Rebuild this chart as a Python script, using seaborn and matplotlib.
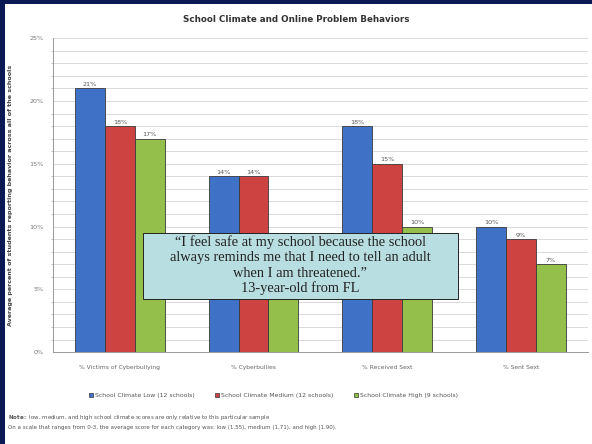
import pandas as pd
import numpy as np
import matplotlib.pyplot as plt
import seaborn as sns
from matplotlib.patches import Rectangle, Patch
from matplotlib.ticker import MultipleLocator

# data (cyberbullies / high is hidden behind the quote box, estimated)
categories = ["% Victims of Cyberbullying", "% Cyberbullies", "% Received Sext", "% Sent Sext"]
groups = ["School Climate Low (12 schools)", "School Climate Medium (12 schools)",
          "School Climate High (9 schools)"]
low = [21, 14, 18, 10]
medium = [18, 14, 15, 9]
high = [17, 8, 10, 7]

colors = ["#3F72C6", "#CC4341", "#95BF4B"]

quote_lines = ["\u201cI feel safe at my school because the school",
               "always reminds me that I need to tell an adult",
               "when I am threatened.\u201d",
               "13-year-old from FL"]

data = pd.DataFrame({
    "category": categories * 3,
    "group": [groups[0]] * 4 + [groups[1]] * 4 + [groups[2]] * 4,
    "value": low + medium + high,
})

sns.set_style("white")
fig = plt.figure(figsize=(5.92, 4.44), dpi=100)
ax = fig.add_axes([0.0895, 0.207, 0.9035, 0.707])

sns.barplot(data=data, x="category", y="value", hue="group", palette=colors,
            saturation=1, width=0.67, edgecolor="#3a3a3a", linewidth=0.6,
            legend=False, ax=ax, zorder=3)

for k, cont in enumerate(ax.containers):
    labels = [f"{v:.0f}%" for v in cont.datavalues]
    if k == 2:
        labels[1] = ""  # this label sits under the quote box in the original
    ax.bar_label(cont, labels=labels, fontsize=4.6, color="#555555", padding=1)

ax.set_ylim(0, 25)
ax.yaxis.set_major_locator(MultipleLocator(5))
ax.yaxis.set_minor_locator(MultipleLocator(1))
ax.set_yticklabels([f"{int(t)}%" for t in ax.get_yticks()])
ax.grid(True, which="both", axis="y", color="#d4d4d4", linewidth=0.6, zorder=0)
ax.set_axisbelow(True)
ax.tick_params(axis="y", which="major", length=3, labelsize=4.6, colors="#777777", width=0.6)
ax.tick_params(axis="y", which="minor", length=1.5, width=0.5, color="#aaaaaa", left=True)
ax.tick_params(axis="x", length=0, labelsize=4.3, colors="#666666", pad=9)
ax.set_xlabel("")
ax.set_ylabel("Average percent of students reporting behavior across all of the schools",
              fontsize=4.6, fontweight="bold", color="#444444", labelpad=12)
for s in ["top", "right"]:
    ax.spines[s].set_visible(False)
ax.spines["left"].set_color("#999999")
ax.spines["bottom"].set_color("#999999")
ax.spines["left"].set_linewidth(0.7)
ax.spines["bottom"].set_linewidth(0.7)

fig.text(0.5, 0.955, "School Climate and Online Problem Behaviors", ha="center", va="center",
         fontsize=6.3, fontweight="bold", color="#333333")

# legend
handles = [Patch(facecolor=c, edgecolor="#333333", linewidth=0.5) for c in colors]
fig.legend(handles, groups, loc="center", bbox_to_anchor=(0.462, 0.11), ncol=3,
           frameon=False, fontsize=4.4, handlelength=0.7, handleheight=0.7,
           handletextpad=0.3, columnspacing=3.3, labelcolor="#555555")

# notes
fig.text(0.014, 0.06, r"$\bf{Note:}$ low, medium, and high school climate scores are only relative to this particular sample",
         fontsize=4, color="#555555", va="center")
fig.text(0.014, 0.037, "On a scale that ranges from 0-3, the average score for each category was: low (1.55), medium (1.71), and high (1.90).",
         fontsize=4, color="#555555", va="center")

# quote box
fig.patches.append(Rectangle((0.2416, 0.327), 0.532, 0.148, transform=fig.transFigure,
                             facecolor="#B9DEE1", edgecolor="#222222", linewidth=0.7,
                             zorder=5))
for i, line in enumerate(quote_lines):
    fig.text(0.5075, 1 - (242.5 + 15.3 * i) / 444, line,
             ha="center", va="center", fontsize=10.4, family="Liberation Serif",
             color="#222222", zorder=6)

# slide frame on the left and top
fig.patches.append(Rectangle((0, 0), 0.009, 1, transform=fig.transFigure,
                             facecolor="#0b1a55", edgecolor="none", zorder=10))
fig.patches.append(Rectangle((0, 0.992), 1, 0.008, transform=fig.transFigure,
                             facecolor="#0b1a55", edgecolor="none", zorder=10))

fig.savefig("out.png", dpi=100)
